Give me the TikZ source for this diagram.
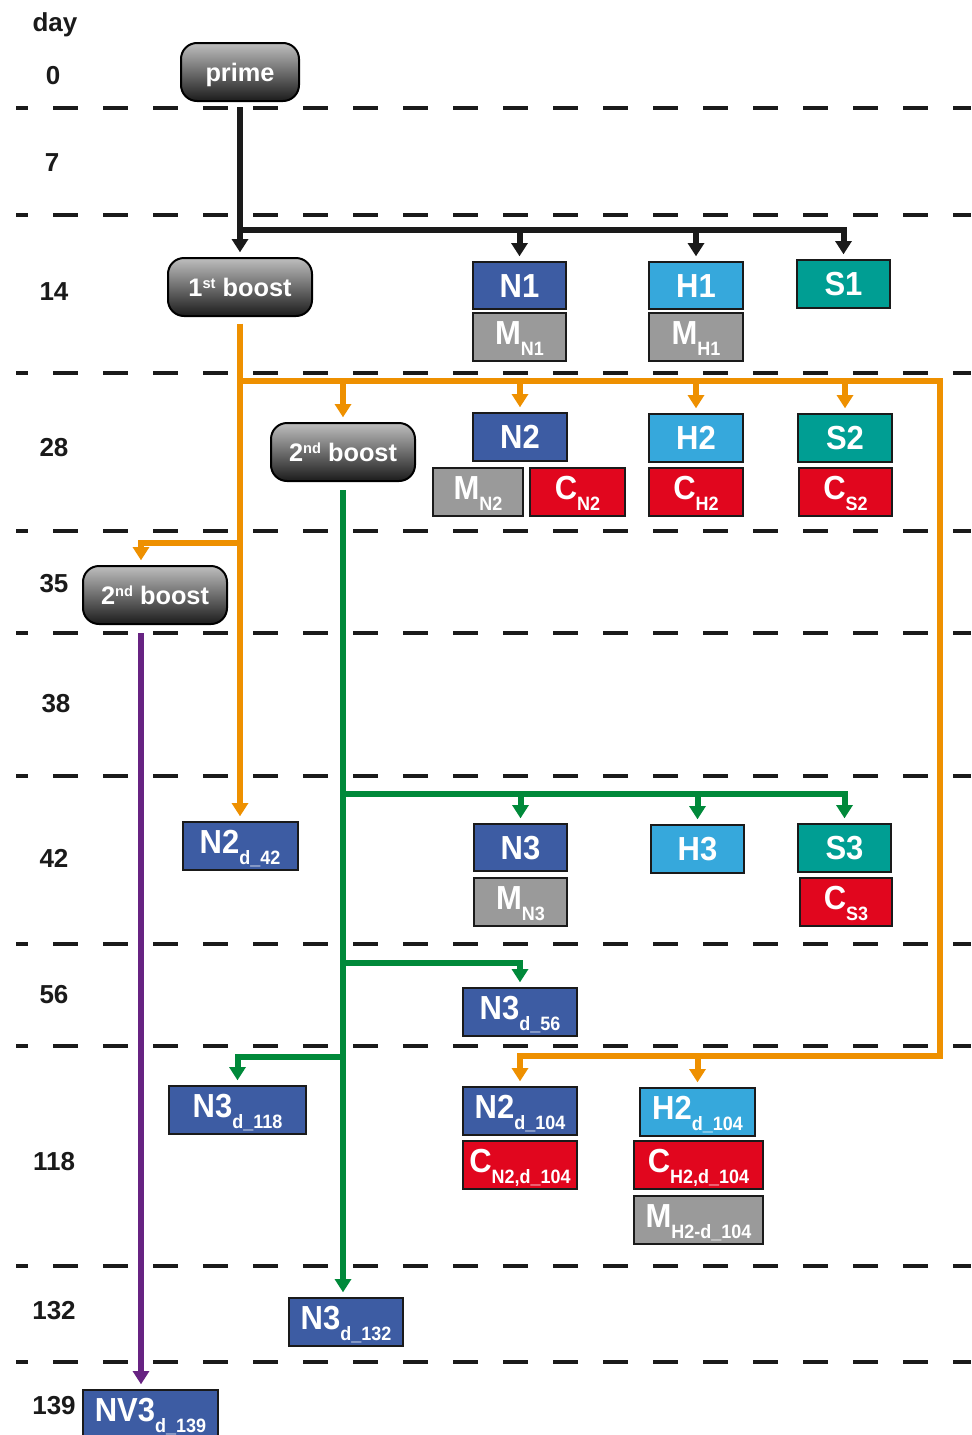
\documentclass[tikz,border=0pt]{standalone}
\usepackage{fontspec}
\setmainfont{Liberation Sans}
\newfontfamily\bxfont[FakeStretch=0.93]{Liberation Sans}
\usetikzlibrary{arrows.meta}
\definecolor{cblue}{HTML}{3D5CA3}
\definecolor{clblue}{HTML}{36A8DC}
\definecolor{cteal}{HTML}{009E93}
\definecolor{cred}{HTML}{E1061E}
\definecolor{cgray}{HTML}{9A9A9A}
\definecolor{corange}{HTML}{EE9000}
\definecolor{cgreen}{HTML}{00893A}
\definecolor{cpurple}{HTML}{672382}
\definecolor{ctop}{HTML}{BEBEBE}
\definecolor{cbot}{HTML}{1C1C1C}
\definecolor{cline}{HTML}{1A1A1A}
\newcommand\sbx[1]{\smash{\raisebox{-8.25pt}{\fontsize{14.5pt}{14.5pt}\selectfont #1}}}
\newcommand\sps[1]{\raisebox{6pt}{\fontsize{11pt}{11pt}\selectfont #1}}
\tikzset{
  bx/.style={draw=cline, line width=1.5pt, inner sep=0pt, text=white,
    font=\bxfont\bfseries\fontsize{25pt}{25pt}\selectfont, text height=17.9pt, text depth=0pt},
  sb/.style={text depth=6pt},
  wh/.style 2 args={minimum width=#1*0.75pt, minimum height=#2*0.75pt},
  bst/.style={draw=black, line width=1.5pt, rounded corners=12pt, top color=ctop, bottom color=cbot,
    text=white, font=\bfseries\fontsize{19pt}{19pt}\selectfont, text height=13.7pt, text depth=0pt,
    inner sep=0pt, minimum width=108pt, minimum height=43.5pt},
  daylab/.style={font=\bfseries\fontsize{19.5pt}{19.5pt}\selectfont, text=cline, text height=14pt,
    text depth=0pt, inner sep=0pt},
  dsh/.style={line width=3pt, draw=cline, dash pattern=on 18.75pt off 18.75pt, dash phase=9.75pt},
  blk/.style={draw=cline, line width=4.5pt},
  org/.style={draw=corange, line width=4.5pt},
  grn/.style={draw=cgreen, line width=4.5pt},
  pur/.style={draw=cpurple, line width=4.5pt},
  arr/.style={-{Triangle[width=12pt,length=10pt]}, shorten >=3.5pt}
}
\begin{document}
\begin{tikzpicture}[x=0.75pt,y=-0.75pt]
\useasboundingbox (0,0) rectangle (971,1435);
% dashed day separators
\foreach \yy in {108,215,373,531,633,776,944,1046,1266,1362}
  \draw[dsh] (16,\yy) -- (971,\yy);
% day labels
\node[font=\bfseries\fontsize{19.5pt}{19.5pt}\selectfont, text=cline, anchor=base, inner sep=0pt] (dday) at (55,31) {day};
\node[daylab] (d0) at (53,75) {0};
\node[daylab] (d7) at (52,162) {7};
\node[daylab] (d14) at (54,291) {14};
\node[daylab] (d28) at (54,447) {28};
\node[daylab] (d35) at (54,583) {35};
\node[daylab] (d38) at (56,703) {38};
\node[daylab] (d42) at (54,858) {42};
\node[daylab] (d56) at (54,994) {56};
\node[daylab] (d118) at (54,1161) {118};
\node[daylab] (d132) at (54,1310) {132};
\node[daylab] (d139) at (54,1405) {139};
% boost nodes
\node[bst, minimum width=88.5pt] (prime) at (240,72) {prime};
\node[bst] (boost1) at (240,287) {1\sps{st} boost};
\node[bst] (boost2a) at (343,452) {2\sps{nd} boost};
\node[bst] (boost2b) at (155,595) {2\sps{nd} boost};
% day 14
\node[bx,wh={93}{47},fill=cblue] (N1) at (519.5,285.5) {N1};
\node[bx,sb,wh={93}{48},fill=cgray] (MN1) at (519.5,337) {M\sbx{N1}};
\node[bx,wh={94}{47},fill=clblue] (H1) at (696,285.5) {H1};
\node[bx,sb,wh={94}{48},fill=cgray] (MH1) at (696,337) {M\sbx{H1}};
\node[bx,wh={93}{48},fill=cteal] (S1) at (843.5,284) {S1};
% day 28
\node[bx,wh={94}{48},fill=cblue] (N2) at (520,437) {N2};
\node[bx,sb,wh={90}{48},fill=cgray] (MN2) at (478,492) {M\sbx{N2}};
\node[bx,sb,wh={95}{48},fill=cred] (CN2) at (577.5,492) {C\sbx{N2}};
\node[bx,wh={94}{48},fill=clblue] (H2) at (696,438) {H2};
\node[bx,sb,wh={94}{48},fill=cred] (CH2) at (696,492) {C\sbx{H2}};
\node[bx,wh={94}{48},fill=cteal] (S2) at (845,438) {S2};
\node[bx,sb,wh={93}{48},fill=cred] (CS2) at (845.5,492) {C\sbx{S2}};
% day 42
\node[bx,sb,wh={115}{48},fill=cblue] (N2d42) at (240,846) {N2\sbx{d\_42}};
\node[bx,wh={93}{47},fill=cblue] (N3) at (520.5,847.5) {N3};
\node[bx,sb,wh={93}{48},fill=cgray] (MN3) at (520.5,902) {M\sbx{N3}};
\node[bx,wh={93}{48},fill=clblue] (H3) at (697.5,849) {H3};
\node[bx,wh={93}{48},fill=cteal] (S3) at (844.5,848) {S3};
\node[bx,sb,wh={92}{48},fill=cred] (CS3) at (846,902) {C\sbx{S3}};
% day 56
\node[bx,sb,wh={114}{48},fill=cblue] (N3d56) at (520,1012) {N3\sbx{d\_56}};
% day 118
\node[bx,sb,wh={137}{48},fill=cblue] (N3d118) at (237.5,1110) {N3\sbx{d\_118}};
\node[bx,sb,wh={114}{48},fill=cblue] (N2d104) at (520,1111) {N2\sbx{d\_104}};
\node[bx,sb,wh={114}{48},fill=cred] (CN2d104) at (520,1165) {C\sbx{N2,d\_104}};
\node[bx,sb,wh={115}{48},fill=clblue] (H2d104) at (697.5,1112) {H2\sbx{d\_104}};
\node[bx,sb,wh={129}{48},fill=cred] (CH2d104) at (698.5,1165) {C\sbx{H2,d\_104}};
\node[bx,sb,wh={129}{48},fill=cgray] (MH2d104) at (698.5,1220) {M\sbx{H2-d\_104}};
% day 132, 139
\node[bx,sb,wh={114}{48},fill=cblue] (N3d132) at (346,1322) {N3\sbx{d\_132}};
\node[bx,sb,wh={135}{48},fill=cblue] (NV3) at (150.5,1414) {NV3\sbx{d\_139}};
% black connectors
\coordinate (jb) at (240,230);
\draw[blk,arr,shorten <=4pt] (prime.south) -- (prime.south |- boost1.north);
\draw[blk,arr] (jb) -| (S1.north);
\draw[blk,arr] (jb -| N1.north) -- (N1.north);
\draw[blk,arr] (jb -| H1.north) -- (H1.north);
% orange connectors
\coordinate (ob) at (240,381);
\coordinate (oc) at (940,1056);
\coordinate (od) at (240,543);
\coordinate (b2bin) at ([xshift=-10.5pt]boost2b.north);
\draw[org,arr,shorten <=5pt] (boost1.south) -- (N2d42.north);
\draw[org,arr] (ob) -| (oc) -| (N2d104.north);
\draw[org,arr] (H2d104.north |- oc) -- (H2d104.north);
\draw[org,arr] (boost2a.north |- ob) -- (boost2a.north);
\draw[org,arr] (N2.north |- ob) -- (N2.north);
\draw[org,arr] (H2.north |- ob) -- (H2.north);
\draw[org,arr] (S2.north |- ob) -- (S2.north);
\draw[org,arr] (od) -| (b2bin);
% green connectors
\coordinate (g1) at (343,794);
\coordinate (g2) at (343,963);
\coordinate (g3) at (343,1057);
\draw[grn,arr,shorten <=6pt] (boost2a.south) -- (boost2a.south |- N3d132.north);
\draw[grn,arr] (g1) -| (S3.north);
\draw[grn,arr] (g1 -| N3.north) -- (N3.north);
\draw[grn,arr] (g1 -| H3.north) -- (H3.north);
\draw[grn,arr] (g2) -| (N3d56.north);
\draw[grn,arr] (g3) -| (N3d118.north);
% purple connector
\coordinate (pp) at ([xshift=-10.5pt]boost2b.south);
\draw[pur,arr,shorten <=6pt] (pp) -- (pp |- NV3.north);
\end{tikzpicture}
\end{document}
